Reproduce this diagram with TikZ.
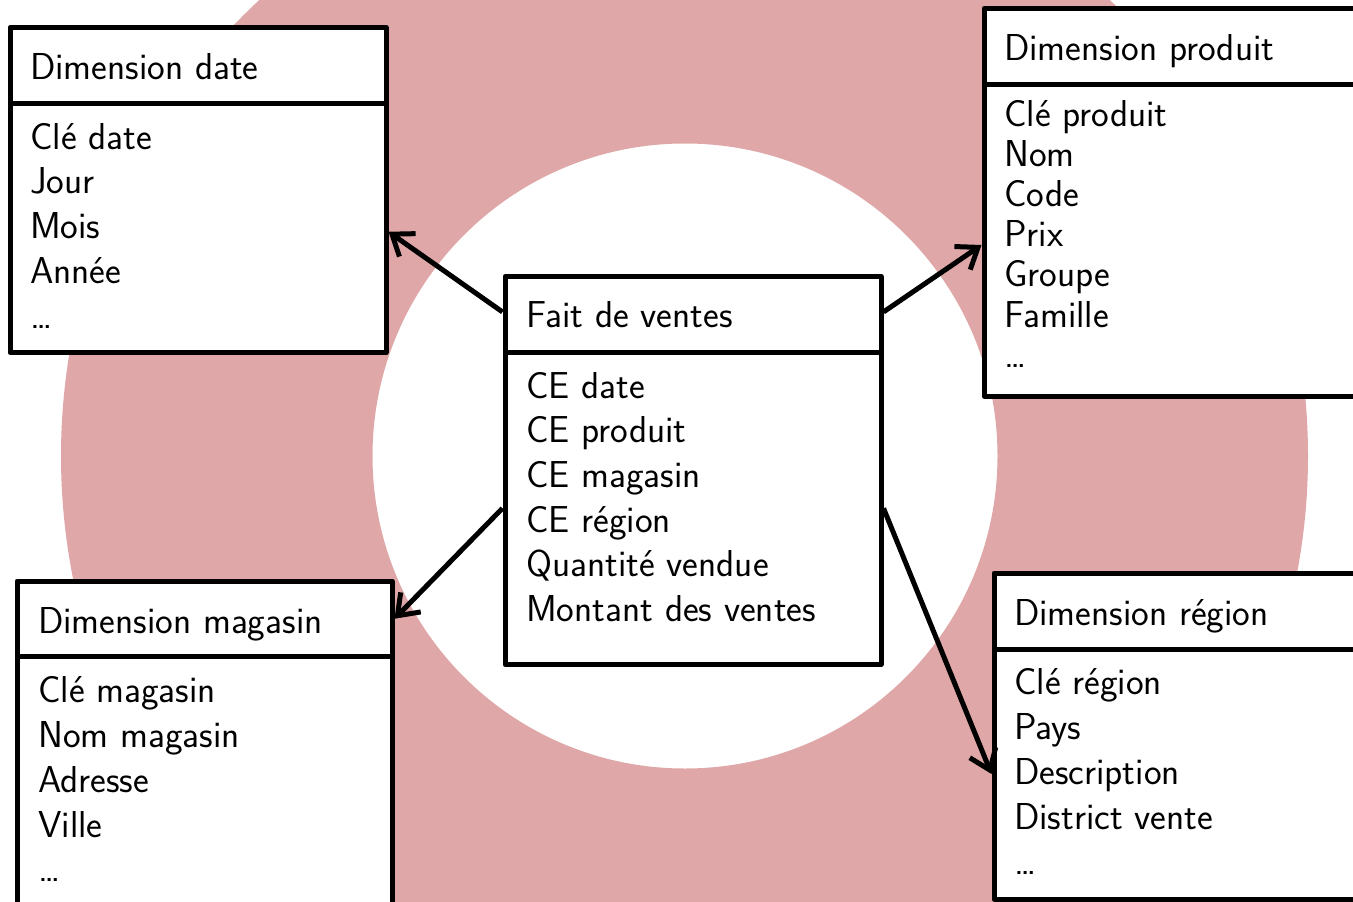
\documentclass[tikz,border=0pt]{standalone}
\usetikzlibrary{arrows.meta}
\definecolor{ringpink}{RGB}{223,167,167}
\tikzset{
  tbox/.style={draw=black, line width=5pt, fill=white, inner sep=0pt, rectangle, line join=round},
  ttext/.style={anchor=base west, inner sep=0pt, font=\sffamily\fontsize{37.5}{44}\selectfont},
  conn/.style={line width=5pt, -{Straight Barb[length=19pt,width=28pt]}},
}
\begin{document}
\begin{tikzpicture}[x=1pt,y=-1pt]
\useasboundingbox (0,0) rectangle (1353,902);
\clip (0,0) rectangle (1353,902);
\fill[ringpink, even odd rule] (684.5,456) circle[radius=623.5pt] (685,456) circle[radius=312.5pt];

% Dimension date
\node[tbox, minimum width=376pt, minimum height=75.5pt] (dateH) at (198,65.25) {};
\node[tbox, minimum width=376pt, minimum height=249.5pt] (dateB) at (198,227.75) {};
\node[ttext] (dateT) at (30,79.5) {Dimension date};
\foreach \t [count=\i] in {Clé date, Jour, Mois, Année, {\ldots}}
  \node[ttext] (date-\i) at (30,{149+(\i-1)*44.8}) {\t};

% Dimension produit
\node[tbox, minimum width=376pt, minimum height=76pt] (prodH) at (1172,46.5) {};
\node[tbox, minimum width=376pt, minimum height=311.5pt] (prodB) at (1172,240.25) {};
\node[ttext] (prodT) at (1004,60.7) {Dimension produit};
\foreach \t [count=\i] in {Clé produit, Nom, Code, Prix, Groupe, Famille, {\ldots}}
  \node[ttext] (prod-\i) at (1004,{126+(\i-1)*40.2}) {\t};

% Fait de ventes
\node[tbox, minimum width=376pt, minimum height=75.5pt] (faitH) at (693,314.25) {};
\node[tbox, minimum width=376pt, minimum height=312.5pt] (faitB) at (693,508.25) {};
\node[ttext] (faitT) at (526,327.5) {Fait de ventes};
\foreach \t [count=\i] in {CE date, CE produit, CE magasin, CE région, Quantité vendue, Montant des ventes}
  \node[ttext] (fait-\i) at (526,{398.3+(\i-1)*44.6}) {\t};

% Dimension magasin
\node[tbox, minimum width=375pt, minimum height=75.5pt] (magH) at (204.5,618.75) {};
\node[tbox, minimum width=375pt, minimum height=250.5pt] (magB) at (204.5,781.75) {};
\node[ttext] (magT) at (38,633.3) {Dimension magasin};
\foreach \t [count=\i] in {Clé magasin, Nom magasin, Adresse, Ville, {\ldots}}
  \node[ttext] (mag-\i) at (38,{702.7+(\i-1)*44.8}) {\t};

% Dimension region
\node[tbox, minimum width=376pt, minimum height=76pt] (regH) at (1182,611) {};
\node[tbox, minimum width=376pt, minimum height=250pt] (regB) at (1182,774) {};
\node[ttext] (regT) at (1014,625) {Dimension région};
\foreach \t [count=\i] in {Clé région, Pays, Description, District vente, {\ldots}}
  \node[ttext] (reg-\i) at (1014,{694+(\i-1)*45}) {\t};

% connectors
\draw[conn] ([yshift=2.3pt]faitH.west) -- ([yshift=-4pt]dateB.east);
\draw[conn] ([yshift=2.3pt]faitH.east) -- ([yshift=-4.75pt]prodB.west);
\draw[conn] (faitB.west) -- (magH.east);
\draw[conn] (faitB.east) -- (regB.west);
\end{tikzpicture}
\end{document}
